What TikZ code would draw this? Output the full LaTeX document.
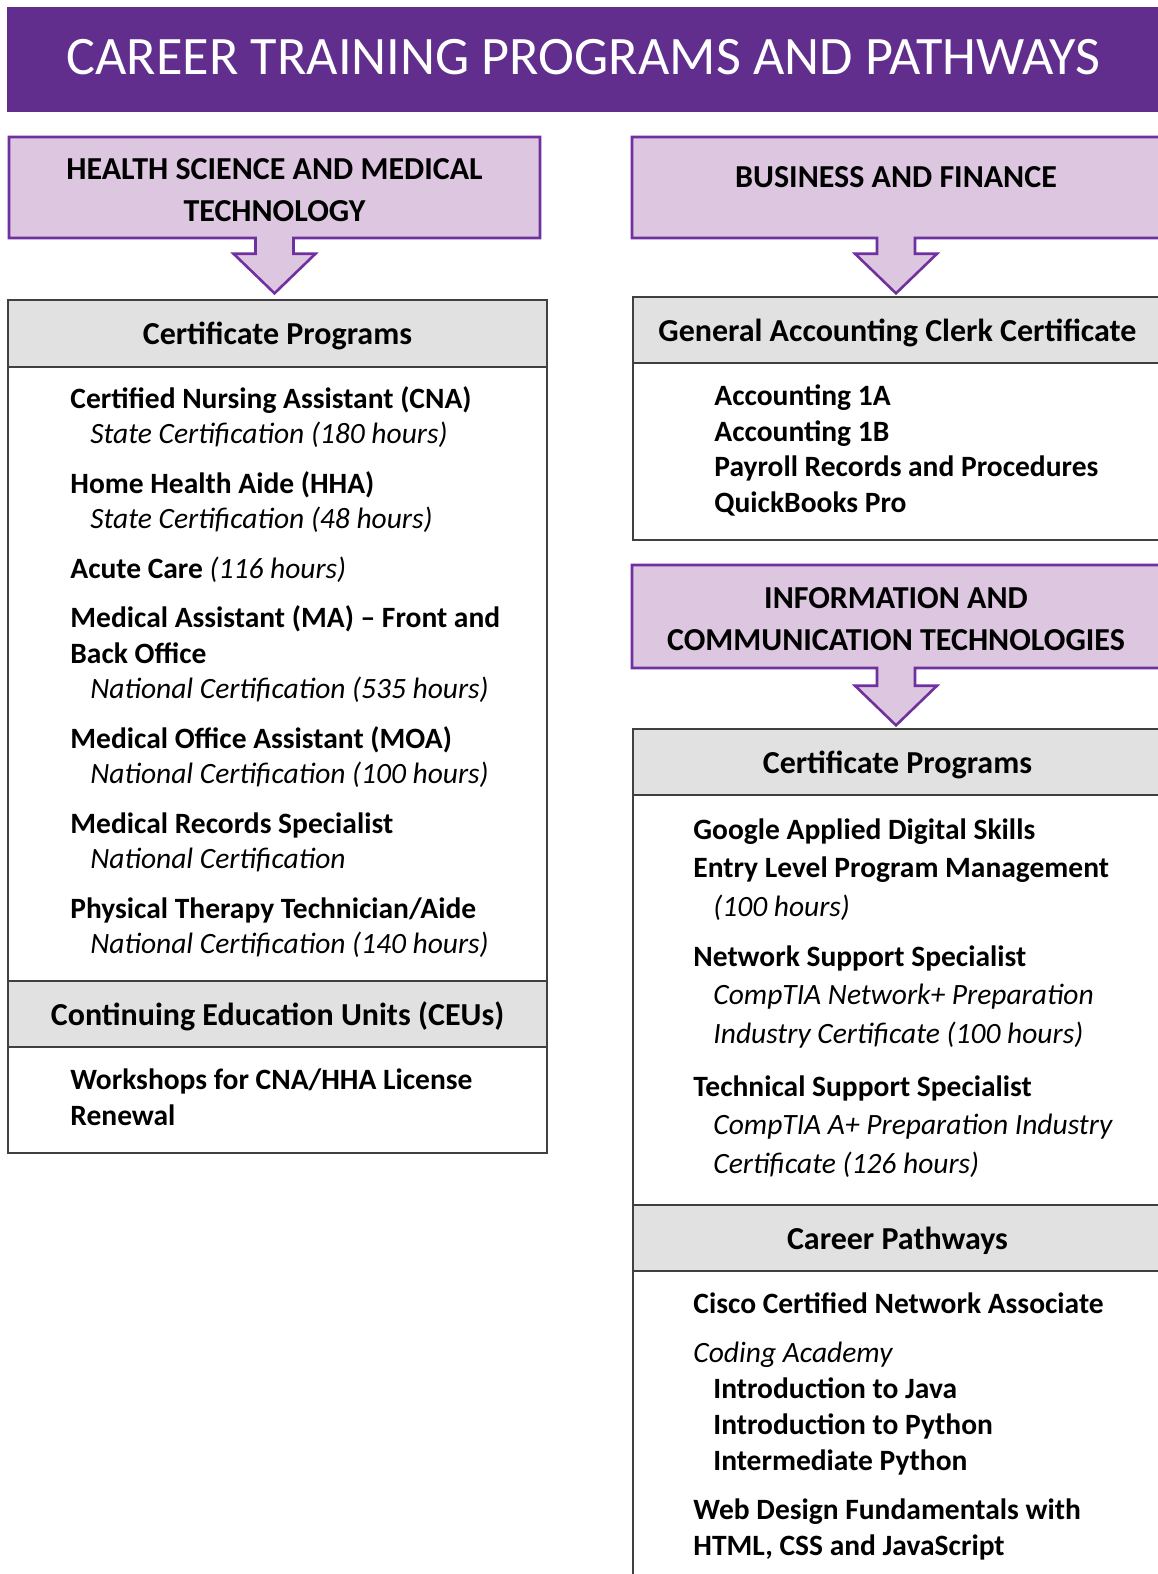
\documentclass[tikz,border=0pt]{standalone}
\usepackage{fontspec}
\setmainfont{Carlito}
\usetikzlibrary{shapes.arrows, positioning}

\definecolor{bannerpurple}{HTML}{612E8D}
\definecolor{trackline}{HTML}{7030A0}
\definecolor{trackfill}{HTML}{DCC6E0}
\definecolor{headgray}{HTML}{E1E1E1}
\definecolor{boxline}{HTML}{404040}

\newcommand{\subline}[1]{\hspace*{10pt}{\mdseries\itshape #1}}
\newcommand{\hrs}[1]{{\mdseries\itshape #1}}

\begin{document}
\begin{tikzpicture}[x=0.5pt, y=-0.5pt,
banner/.style={fill=bannerpurple, text=white, inner sep=0pt,
  minimum width=576.5pt, minimum height=52.5pt,
  font=\fontsize{27.1}{30}\selectfont, text depth=3pt},
track/.style={arrow box, draw=trackline, fill=trackfill,
  line width=1.3pt, inner sep=0pt, minimum width=265.5pt,
  align=center, font=\fontsize{16}{21}\selectfont\bfseries,
  arrow box tip angle=92, arrow box shaft width=19pt,
  arrow box head extend=11pt, arrow box north arrow=-1pt,
  arrow box east arrow=-1pt, arrow box west arrow=-1pt,
  arrow box south arrow=27pt},
grayhead/.style={draw=boxline, fill=headgray, line width=1pt,
  minimum width=269.5pt, minimum height=33pt, inner sep=0pt,
  outer sep=0pt, font=\fontsize{16}{20}\selectfont\bfseries,
  text height=13.7pt, text depth=2pt},
listbox/.style={draw=boxline, line width=1pt, minimum width=269.5pt,
  inner sep=0pt, outer sep=0pt},
items/.style={anchor=base west, inner sep=0pt, align=left,
  font=\fontsize{14.75}{17.75}\selectfont\bfseries}]
\useasboundingbox (0,0) rectangle (1157,1574);

\node[banner] (title) at (583.5,59.5) {CAREER TRAINING PROGRAMS AND PATHWAYS};

% health science column
\node[track, minimum height=50.5pt, text height=34.3pt] (health) at (274.5,187.5)
  {HEALTH SCIENCE AND MEDICAL\\TECHNOLOGY};
\node[grayhead, minimum height=33.5pt] (healthCert) at (277.5,333) {Certificate Programs};
\node[listbox, minimum height=307pt, below=0pt of healthCert] (healthCertBox) {};
\node[grayhead, below=0pt of healthCertBox] (ceu) {Continuing Education Units (CEUs)};
\node[listbox, minimum height=53pt, below=0pt of ceu] (ceuBox) {};

% lists are placed by the baseline of their last line
\node[items] (healthList) at (70,953.5) {
Certified Nursing Assistant (CNA)\\
\subline{State Certification (180 hours)}\\[7pt]
Home Health Aide (HHA)\\
\subline{State Certification (48 hours)}\\[7pt]
Acute Care \hrs{(116 hours)}\\[7pt]
Medical Assistant (MA) -- Front and\\
Back Office\\
\subline{National Certification (535 hours)}\\[7pt]
Medical Office Assistant (MOA)\\
\subline{National Certification (100 hours)}\\[7pt]
Medical Records Specialist\\
\subline{National Certification}\\[7pt]
Physical Therapy Technician/Aide\\
\subline{National Certification (140 hours)}
};
\node[items, font=\fontsize{14.75}{18}\selectfont\bfseries] (ceuList) at (70,1125) {
Workshops for CNA/HHA License\\
Renewal
};

% business column
\node[track, minimum width=264pt, minimum height=50.5pt, text depth=10.5pt]
  (business) at (896,187.5) {BUSINESS AND FINANCE};
\node[grayhead, minimum width=264.5pt] (clerk) at (897.5,330)
  {General Accounting Clerk Certificate};
\node[listbox, minimum width=264.5pt, minimum height=88.5pt, below=0pt of clerk] (clerkBox) {};
\node[items] (clerkList) at (714,512) {
Accounting 1A\\
Accounting 1B\\
Payroll Records and Procedures\\
QuickBooks Pro
};

% ict column
\node[track, minimum width=264pt, minimum height=51.5pt, text height=33.8pt,
  arrow box south arrow=28pt] (ict) at (896,616.5)
  {INFORMATION AND\\COMMUNICATION TECHNOLOGIES};
\node[grayhead, minimum width=264.5pt] (ictCert) at (897.5,762) {Certificate Programs};
\node[listbox, minimum width=264.5pt, minimum height=205pt, below=0pt of ictCert] (ictCertBox) {};
\node[grayhead, minimum width=264.5pt, below=0pt of ictCertBox] (pathways) {Career Pathways};
\node[listbox, minimum width=264.5pt, minimum height=170pt, below=0pt of pathways] (pathwaysBox) {};

\node[items, font=\fontsize{14.75}{19.25}\selectfont\bfseries] (ictList) at (693,1173) {
Google Applied Digital Skills\\
Entry Level Program Management\\
\subline{(100 hours)}\\[5.75pt]
Network Support Specialist\\
\subline{CompTIA Network+ Preparation}\\
\subline{Industry Certificate (100 hours)}\\[7.25pt]
Technical Support Specialist\\
\subline{CompTIA A+ Preparation Industry}\\
\subline{Certificate (126 hours)}
};
\node[items, font=\fontsize{14.75}{18}\selectfont\bfseries] (pathwaysList) at (693,1555) {
Cisco Certified Network Associate\\[6.5pt]
{\mdseries\itshape Coding Academy}\\
\hspace*{10pt}Introduction to Java\\
\hspace*{10pt}Introduction to Python\\
\hspace*{10pt}Intermediate Python\\[6.5pt]
Web Design Fundamentals with\\
HTML, CSS and JavaScript
};
\end{tikzpicture}
\end{document}
